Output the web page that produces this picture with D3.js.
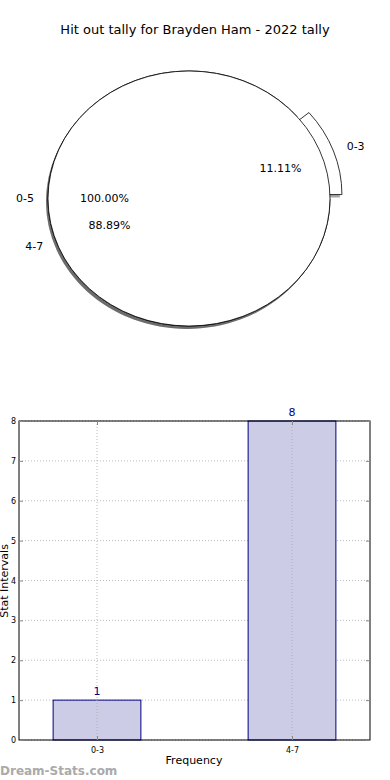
<!DOCTYPE html>
<html lang="en">
<head>
<meta charset="UTF-8"/>
<title>Hit out tally</title>
<script src="https://d3js.org/d3.v7.min.js"></script>
<style>
	body { margin: 0; background: #fff; }
	text { font-family: "DejaVu Sans", sans-serif; }
</style>
</head>
<body>
<script>
	// data
	var title = "Hit out tally for Brayden Ham - 2022 tally";
	var outerLabels = ["0-5"];
	var outerValues = [9];
	var innerLabels = ["0-3", "4-7"];
	var innerValues = [1, 8];
	var innerExplode = [0.09, 0];
	var barLabels = ["0-3", "4-7"];
	var barValues = [1, 8];
	var yTicks = [0, 1, 2, 3, 4, 5, 6, 7, 8];

	var w = 390, h = 780;

	var svg = d3.select("body").append("svg")
		.attr("width", w)
		.attr("height", h);

	svg.append("text")
		.attr("x", 195)
		.attr("y", 34)
		.attr("text-anchor", "middle")
		.attr("font-size", 13)
		.text(title);

	// ---- pie (ellipse because the axes are not square) ----
	var cx = 189, cy = 198.5, rx = 141, ry = 127.5;

	// matplotlib starts at 3 o'clock and goes counter clockwise
	var pie = d3.pie().sort(null).startAngle(Math.PI / 2).endAngle(Math.PI / 2 - 2 * Math.PI);
	var arc = d3.arc().innerRadius(0).outerRadius(1);

	function mid(d) { return (d.startAngle + d.endAngle) / 2; }
	function px(a, r) { return cx + rx * r * Math.sin(a); }
	function py(a, r) { return cy - ry * r * Math.cos(a); }

	var innerArcs = pie(innerValues);
	var outerArcs = pie(outerValues);
	innerArcs.forEach(function(d, i) { d.ex = innerExplode[i]; d.label = innerLabels[i]; d.sum = d3.sum(innerValues); });
	outerArcs.forEach(function(d, i) { d.ex = 0; d.label = outerLabels[i]; d.sum = d3.sum(outerValues); });

	function wedgeTransform(d, sx, sy) {
		var a = mid(d);
		return "translate(" + (px(a, d.ex) + sx) + "," + (py(a, d.ex) + sy) + ") scale(" + rx + "," + ry + ")";
	}

	var all = innerArcs.concat(outerArcs);

	// shadows
	svg.append("g").selectAll("path")
		.data(all)
		.enter()
		.append("path")
		.attr("d", arc)
		.attr("transform", function(d) { return wedgeTransform(d, -2, 3); })
		.attr("fill", "#000")
		.attr("fill-opacity", 0.35)
		.attr("stroke", "none");

	// wedges, full 0-5 circle is drawn last so it hides the inner part
	svg.append("g").selectAll("path")
		.data(all)
		.enter()
		.append("path")
		.attr("d", arc)
		.attr("transform", function(d) { return wedgeTransform(d, 0, 0); })
		.attr("fill", "#fff")
		.attr("stroke", "#000")
		.attr("stroke-width", 0.8)
		.attr("vector-effect", "non-scaling-stroke");

	var fmt = d3.format(".2f");
	all.forEach(function(d) {
		var a = mid(d);
		svg.append("text")
			.attr("x", px(a, d.ex + 1.1))
			.attr("y", py(a, d.ex + 1.1))
			.attr("dy", "0.35em")
			.attr("font-size", 11)
			.attr("text-anchor", Math.sin(a) < 0 ? "end" : "start")
			.text(d.label);
		svg.append("text")
			.attr("x", px(a, d.ex + 0.6))
			.attr("y", py(a, d.ex + 0.6))
			.attr("dy", "0.35em")
			.attr("font-size", 11)
			.attr("text-anchor", "middle")
			.text(fmt(d.value / d.sum * 100) + "%");
	});

	// ---- bar chart ----
	var plotLeft = 19, plotRight = 370, plotTop = 421, plotBottom = 740;

	var xScale = d3.scaleLinear().domain([-0.4, 1.4]).range([plotLeft, plotRight]);
	var yScale = d3.scaleLinear().domain([0, 8]).range([plotBottom, plotTop]);
	var barW = 0.45;

	var g = svg.append("g");

	// grid
	g.selectAll(".hgrid")
		.data(yTicks)
		.enter()
		.append("line")
		.attr("x1", plotLeft).attr("x2", plotRight)
		.attr("y1", function(d) { return yScale(d); })
		.attr("y2", function(d) { return yScale(d); })
		.attr("stroke", "#aaa")
		.attr("stroke-width", 0.8)
		.attr("stroke-dasharray", "1,2");

	g.selectAll(".bar")
		.data(barValues)
		.enter()
		.append("rect")
		.attr("x", function(d, i) { return xScale(i - barW / 2); })
		.attr("width", function() { return xScale(barW) - xScale(0); })
		.attr("y", function(d) { return yScale(d); })
		.attr("height", function(d) { return yScale(0) - yScale(d); })
		.attr("fill", "#ccccE6")
		.attr("stroke", "#000080")
		.attr("stroke-width", 1);

	g.selectAll(".vgrid")
		.data(barLabels)
		.enter()
		.append("line")
		.attr("x1", function(d, i) { return xScale(i); })
		.attr("x2", function(d, i) { return xScale(i); })
		.attr("y1", plotTop).attr("y2", plotBottom)
		.attr("stroke", "#aaa")
		.attr("stroke-width", 0.8)
		.attr("stroke-dasharray", "1,2");

	g.selectAll(".vlab")
		.data(barValues)
		.enter()
		.append("text")
		.attr("x", function(d, i) { return xScale(i); })
		.attr("y", function(d) { return yScale(d) - 5; })
		.attr("text-anchor", "middle")
		.attr("font-size", 11)
		.attr("fill", "#000080")
		.text(function(d) { return d; });

	// frame
	g.append("rect")
		.attr("x", plotLeft).attr("y", plotTop)
		.attr("width", plotRight - plotLeft).attr("height", plotBottom - plotTop)
		.attr("fill", "none")
		.attr("stroke", "#000")
		.attr("stroke-width", 1);

	// axes with inward ticks on all four sides
	var yAxis = d3.axisLeft(yScale).tickValues(yTicks).tickSizeInner(-4).tickSizeOuter(0).tickPadding(3);
	var xAxis = d3.axisBottom(xScale).tickValues([0, 1])
		.tickFormat(function(d) { return barLabels[d]; })
		.tickSizeInner(-4).tickSizeOuter(0).tickPadding(7);

	var ya = g.append("g").attr("transform", "translate(" + plotLeft + ",0)").call(yAxis);
	var ya2 = g.append("g").attr("transform", "translate(" + plotRight + ",0)")
		.call(d3.axisRight(yScale).tickValues(yTicks).tickSizeInner(-4).tickSizeOuter(0).tickFormat(""));
	var xa = g.append("g").attr("transform", "translate(0," + plotBottom + ")").call(xAxis);
	var xa2 = g.append("g").attr("transform", "translate(0," + plotTop + ")")
		.call(d3.axisTop(xScale).tickValues([0, 1]).tickSizeInner(-4).tickSizeOuter(0).tickFormat(""));

	[ya, ya2, xa, xa2].forEach(function(a) {
		a.select(".domain").remove();
		a.selectAll("line").attr("stroke", "#888");
		a.selectAll("text").attr("font-size", 8).attr("font-family", "DejaVu Sans, sans-serif");
	});

	svg.append("text")
		.attr("x", 194)
		.attr("y", 764)
		.attr("text-anchor", "middle")
		.attr("font-size", 11)
		.text("Frequency");

	svg.append("text")
		.attr("transform", "translate(7.5,581) rotate(-90)")
		.attr("text-anchor", "middle")
		.attr("font-size", 11)
		.text("Stat Intervals");

	svg.append("text")
		.attr("x", 0)
		.attr("y", 775)
		.attr("font-size", 12)
		.attr("font-weight", "bold")
		.attr("fill", "#aaa")
		.text("Dream-Stats.com");
</script>
</body>
</html>
